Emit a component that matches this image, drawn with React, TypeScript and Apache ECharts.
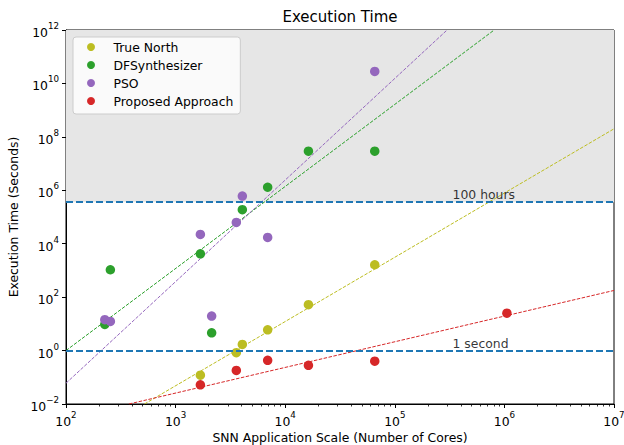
import React, { useEffect, useRef } from "react";
import * as echarts from "echarts";

const seriesNames = ["True North", "DFSynthesizer", "PSO", "Proposed Approach"];
const seriesColors = ["#bcbd22", "#2ca02c", "#9467bd", "#d62728"];

// Measured points (cores, seconds)
const trueNorthX = [1683, 3581, 4064, 6918, 16293, 65614];
const trueNorthY = [0.12, 0.83, 1.69, 6.0, 52, 1630];
const dfsX = [226, 254, 1683, 2133, 4064, 6918, 16293, 65614];
const dfsY = [9.5, 1060, 4200, 4.6, 1.87e5, 1.3e6, 2.9e7, 2.9e7];
const psoX = [226, 254, 1683, 2133, 3581, 4064, 6918, 65614];
const psoY = [14.3, 12.3, 22300, 19.5, 62800, 6.07e5, 17200, 2.8e10];
const proposedX = [1683, 3581, 6918, 16293, 65614, 1054000];
const proposedY = [0.052, 0.18, 0.43, 0.28, 0.4, 25];

// Trend line end points
const trueNorthFitX = [520, 1e7];
const trueNorthFitY = [0.01, 2.0e8];
const dfsFitX = [100, 8.07e5];
const dfsFitY = [1, 1e12];
const psoFitX = [100, 3.0e5];
const psoFitY = [0.06, 1e12];
const proposedFitX = [375, 1e7];
const proposedFitY = [0.01, 178];

const thresholdValues = [360000, 1];
const thresholdLabels = ["100 hours", "1 second"];
const thresholdLabelX = 3.4e5;
const shadedRange = [360000, 1e12];

const xMajorTicks = [1e2, 1e3, 1e4, 1e5, 1e6, 1e7];
const yMajorTicks = [1e-2, 1, 1e2, 1e4, 1e6, 1e8, 1e10, 1e12];
const minorMultipliers = [2, 3, 4, 5, 6, 7, 8, 9];
const minorDecades = [1e2, 1e3, 1e4, 1e5, 1e6];

const FONT = "DejaVu Sans";
const FS = 12.4;

const pairs = (xs: number[], ys: number[]) => xs.map((x, i) => [x, ys[i]]);

const rich = {
  b: { fontFamily: FONT, fontSize: FS, color: "#000", lineHeight: 17, verticalAlign: "bottom" },
  s: { fontFamily: FONT, fontSize: 8.7, color: "#000", lineHeight: 11, verticalAlign: "top" },
};
const fmt = (v: number) => {
  const e = Math.round(Math.log10(v));
  return `{b|10}{s|${e < 0 ? "\u2212" + -e : e}}`;
};

export default function App() {
  const ref = useRef<HTMLDivElement>(null);
  useEffect(() => {
    if (!ref.current) return;
    const chart = echarts.init(ref.current, undefined, { renderer: "svg" });
    const minorTicks: number[] = [];
    minorDecades.forEach((d) => minorMultipliers.forEach((m) => minorTicks.push(m * d)));

    const points = [
      pairs(trueNorthX, trueNorthY),
      pairs(dfsX, dfsY),
      pairs(psoX, psoY),
      pairs(proposedX, proposedY),
    ];
    const fits = [
      pairs(trueNorthFitX, trueNorthFitY),
      pairs(dfsFitX, dfsFitY),
      pairs(psoFitX, psoFitY),
      pairs(proposedFitX, proposedFitY),
    ];

    const series: any[] = [];
    fits.forEach((d, i) => {
      const s: any = {
        type: "line",
        name: seriesNames[i] + " fit",
        data: d,
        showSymbol: false,
        symbol: "none",
        silent: true,
        z: 3,
        lineStyle: { color: seriesColors[i], width: 1, type: [3.5, 1.5] },
      };
      if (i === 0) {
        s.markArea = {
          silent: true,
          itemStyle: { color: "#e6e6e6" },
          data: [[{ yAxis: shadedRange[0] }, { yAxis: shadedRange[1] }]],
        };
        s.markLine = {
          silent: true,
          symbol: ["none", "none"],
          label: { show: false },
          lineStyle: { color: "#1f77b4", width: 2, type: [7, 3] },
          data: thresholdValues.map((v) => ({ yAxis: v })),
        };
      }
      series.push(s);
    });
    points.forEach((d, i) => {
      series.push({
        type: "scatter",
        name: seriesNames[i],
        data: d,
        symbol: "circle",
        symbolSize: 9.5,
        z: 4,
        itemStyle: { color: seriesColors[i], opacity: 1 },
      });
    });
    series.push({
      type: "scatter",
      name: "notes",
      silent: true,
      symbolSize: 1,
      z: 5,
      itemStyle: { color: "rgba(0,0,0,0)" },
      data: thresholdValues.map((v, i) => ({
        value: [thresholdLabelX, v],
        label: { formatter: thresholdLabels[i] },
      })),
      label: {
        show: true,
        position: [0, -1],
        align: "left",
        verticalAlign: "bottom",
        fontFamily: FONT,
        fontSize: FS,
        color: "#000",
      },
    });

    chart.setOption({
      animation: false,
      backgroundColor: "#fff",
      textStyle: { fontFamily: FONT },
      title: {
        text: "Execution Time",
        left: 340,
        top: 9,
        textAlign: "center",
        padding: 0,
        textStyle: { fontFamily: FONT, fontSize: 15, fontWeight: "normal", color: "#000" },
      },
      legend: {
        data: seriesNames.map((n) => ({ name: n, icon: "circle" })),
        orient: "vertical",
        left: 73,
        top: 37,
        itemWidth: 35,
        itemHeight: 8,
        itemGap: 6,
        padding: [4, 7, 7, 14],
        backgroundColor: "rgba(255,255,255,0.8)",
        borderColor: "#cccccc",
        borderWidth: 1,
        borderRadius: 3,
        selectedMode: false,
        textStyle: { fontFamily: FONT, fontSize: FS, color: "#000" },
      },
      grid: {
        left: 66,
        right: 10,
        top: 30,
        bottom: 41,
        outerBoundsMode: "none",
        containLabel: false,
        show: true,
        backgroundColor: "#fff",
        borderColor: "#000",
        borderWidth: 1,
      },
      xAxis: [
        {
          type: "log",
          logBase: 10,
          min: 100,
          max: 1e7,
          name: "SNN Application Scale (Number of Cores)",
          nameLocation: "middle",
          nameGap: 27,
          nameTextStyle: { fontFamily: FONT, fontSize: FS, color: "#000" },
          axisLine: { lineStyle: { color: "#000", width: 1 } },
          axisTick: { customValues: xMajorTicks, length: 4, lineStyle: { color: "#000", width: 1 } },
          axisLabel: { customValues: xMajorTicks, formatter: fmt, rich, margin: 6 },
          splitLine: { show: false },
        },
        {
          type: "log",
          logBase: 10,
          min: 100,
          max: 1e7,
          position: "bottom",
          axisLine: { show: false },
          axisTick: { customValues: minorTicks, length: 2.5, lineStyle: { color: "#000", width: 0.8 } },
          axisLabel: { show: false },
          splitLine: { show: false },
        },
      ],
      yAxis: {
        type: "log",
        logBase: 10,
        min: 1e-2,
        max: 1e12,
        name: "Execution Time (Seconds)",
        nameLocation: "middle",
        nameGap: 44,
        nameRotate: 90,
        nameTextStyle: { fontFamily: FONT, fontSize: FS, color: "#000" },
        axisLine: { lineStyle: { color: "#000", width: 1 } },
        axisTick: { customValues: yMajorTicks, length: 4, lineStyle: { color: "#000", width: 1 } },
        axisLabel: { customValues: yMajorTicks, formatter: fmt, rich, margin: 7 },
        splitLine: { show: false },
      },
      series,
    });
    return () => chart.dispose();
  }, []);
  return (
    <div
      ref={ref}
      style={{ position: "absolute", left: 0, top: 0, width: 624, height: 445 }}
    />
  );
}
